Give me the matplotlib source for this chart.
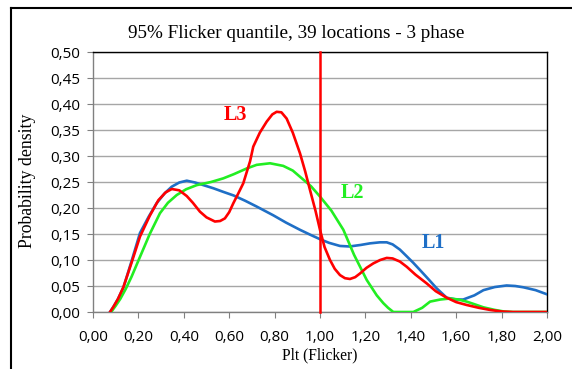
import matplotlib
matplotlib.use("Agg")
import matplotlib.pyplot as plt
from matplotlib.lines import Line2D
from matplotlib.ticker import FuncFormatter, MultipleLocator

# ---- data ----
l1_x = [0.075,0.09,0.11,0.134,0.17,0.207,0.245,0.28,0.315,0.347,0.38,0.413,0.45,0.486,0.53,0.574,0.62,0.67,0.72,0.794,0.85,0.912,0.96,1.0,1.04,1.088,1.13,1.18,1.22,1.264,1.294,1.32,1.352,1.38,1.41,1.44,1.48,1.514,1.558,1.60,1.631,1.68,1.72,1.77,1.822,1.86,1.896,1.95,2.0]
l1_y = [0,0.01,0.025,0.047,0.098,0.152,0.183,0.209,0.228,0.241,0.249,0.2525,0.249,0.244,0.238,0.231,0.224,0.214,0.203,0.186,0.172,0.158,0.148,0.140,0.133,0.127,0.126,0.129,0.132,0.134,0.134,0.130,0.12,0.108,0.095,0.081,0.062,0.0455,0.0275,0.024,0.024,0.032,0.042,0.048,0.051,0.050,0.0475,0.042,0.034]

l2_x = [0.08,0.10,0.12,0.145,0.17,0.207,0.25,0.295,0.33,0.369,0.41,0.457,0.52,0.574,0.62,0.677,0.721,0.78,0.838,0.88,0.912,0.96,1.0,1.05,1.103,1.15,1.206,1.25,1.279,1.30,1.323,1.36,1.411,1.45,1.485,1.53,1.573,1.61,1.646,1.68,1.72,1.77,1.81,1.85,1.9,2.0]
l2_y = [0,0.012,0.025,0.045,0.068,0.106,0.15,0.19,0.21,0.225,0.236,0.244,0.25,0.257,0.265,0.276,0.283,0.286,0.281,0.272,0.26,0.242,0.222,0.195,0.158,0.11,0.0615,0.032,0.017,0.008,0,0,0,0.008,0.02,0.024,0.026,0.024,0.02,0.015,0.009,0.004,0.001,0,0,0]

l3_x = [0.075,0.09,0.11,0.134,0.17,0.207,0.25,0.288,0.32,0.347,0.38,0.413,0.44,0.471,0.50,0.537,0.56,0.581,0.60,0.618,0.64,0.662,0.692,0.706,0.735,0.765,0.79,0.809,0.83,0.853,0.88,0.912,0.935,0.956,0.98,1.0,1.02,1.044,1.065,1.088,1.11,1.132,1.155,1.176,1.205,1.235,1.265,1.294,1.32,1.352,1.382,1.42,1.47,1.51,1.558,1.60,1.646,1.70,1.749,1.80,1.85,2.0]
l3_y = [0,0.01,0.025,0.048,0.095,0.145,0.185,0.215,0.23,0.2365,0.234,0.223,0.21,0.193,0.182,0.174,0.175,0.18,0.192,0.209,0.228,0.2475,0.29,0.318,0.345,0.366,0.38,0.385,0.384,0.372,0.345,0.305,0.27,0.2345,0.195,0.158,0.125,0.1,0.083,0.071,0.065,0.0635,0.067,0.074,0.085,0.0935,0.1,0.104,0.103,0.097,0.087,0.072,0.055,0.04,0.0275,0.019,0.0135,0.008,0.004,0.001,0,0]

limit_x = 1.0
series_labels = ["L1", "L2", "L3"]
label_pos = {"L1": (1.498, 0.133), "L2": (1.141, 0.229), "L3": (0.626, 0.379)}

title = "95% Flicker quantile, 39 locations - 3 phase"
xlabel = "Plt (Flicker)"
ylabel = "Probability density"

c_blue = "#1f6fc6"
c_green = "#22ee22"
c_red = "#ff0000"
colors = {"L1": c_blue, "L2": c_green, "L3": c_red}

fig = plt.figure(figsize=(5.72, 3.69), dpi=100)
ax = fig.add_axes([93/572, 1-312/369, (547-93)/572, (312-52)/369])

ax.set_xlim(0, 2.0)
ax.set_ylim(0, 0.5)
ax.yaxis.set_major_locator(MultipleLocator(0.05))
ax.xaxis.set_major_locator(MultipleLocator(0.2))
fmt = FuncFormatter(lambda v, p: f"{v:.2f}".replace(".", ","))
ax.xaxis.set_major_formatter(fmt)
ax.yaxis.set_major_formatter(fmt)

ax.grid(axis="y", color="#a6a6a6", lw=1.0)
ax.set_axisbelow(True)
for s in ax.spines.values():
    s.set_color("#000000")
    s.set_linewidth(1.0)
ax.spines["left"].set_color("#808080")
ax.spines["bottom"].set_color("#808080")
ax.tick_params(axis="both", direction="out", length=4.3, color="#808080",
               labelsize=11, pad=5)
for lab in ax.get_xticklabels() + ax.get_yticklabels():
    lab.set_fontfamily("Open Sans")
ax.tick_params(axis="x", pad=9)

ax.plot(l1_x, l1_y, color=c_blue, lw=1.9, zorder=3)
ax.plot(l2_x, l2_y, color=c_green, lw=1.9, zorder=3)
ax.plot(l3_x, l3_y, color=c_red, lw=1.9, zorder=4)
ax.plot([limit_x, limit_x], [0, 0.5], color=c_red, lw=1.8, zorder=5, clip_on=False)

for name in series_labels:
    x, y = label_pos[name]
    ax.text(x, y, name, color=colors[name], fontsize=14.5, fontweight="bold",
            fontfamily="Liberation Serif", ha="center", va="center", zorder=6)

fig.text(296/572, 1-33/369, title, fontsize=13.8, fontfamily="Liberation Serif",
         ha="center", va="center")
fig.text(27/572, 1-181/369, ylabel, fontsize=12.8, fontfamily="Liberation Serif",
         ha="center", va="center", rotation=90)
fig.text(320/572, 1-355/369, xlabel, fontsize=11.2, fontfamily="Liberation Serif",
         ha="center", va="center")

# outer frame (top and left visible)
fig.add_artist(Line2D([11/572, 1.0], [1-8/369, 1-8/369], color="black", lw=1.5,
                      transform=fig.transFigure))
fig.add_artist(Line2D([11/572, 11/572], [0, 1-8/369], color="black", lw=1.5,
                      transform=fig.transFigure))

fig.savefig("out.png", dpi=100)
